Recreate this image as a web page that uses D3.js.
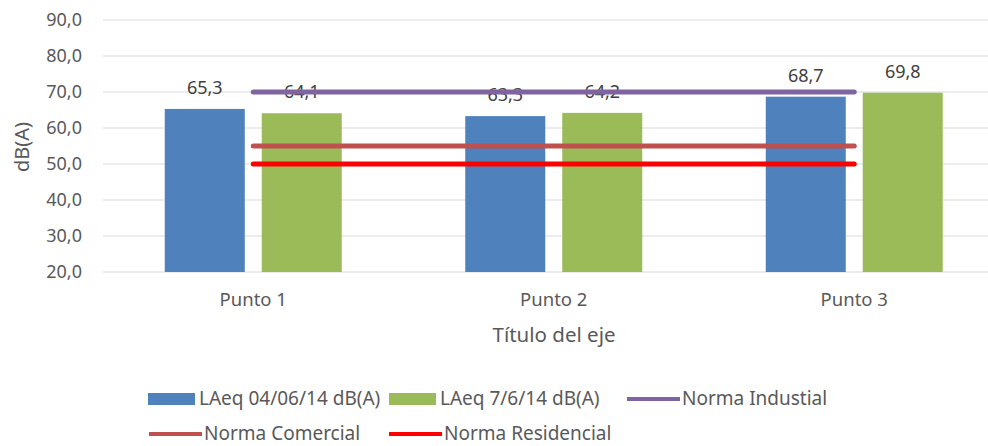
<!DOCTYPE html>
<html>
<head>
    <meta charset="utf-8">
    <title>Niveles de ruido</title>
    <script type="text/javascript" src="https://d3js.org/d3.v7.min.js"></script>
    <style>
        body { margin: 0; background: white; }
        .canvas { font-family: "Noto Sans", sans-serif; background-color: white; }
    </style>
</head>
<body>
    <svg class="canvas" width="988" height="446"></svg>
    <script type="text/javascript">
        // data
        var puntos = ["Punto 1", "Punto 2", "Punto 3"]
        var series = ["LAeq 04/06/14 dB(A)", "LAeq 7/6/14 dB(A)"]
        var medicion1 = [65.3, 63.3, 68.7]
        var medicion2 = [64.1, 64.2, 69.8]
        var normaIndustrial = [70, 70, 70]
        var normaComercial = [55, 55, 55]
        var normaResidencial = [50, 50, 50]
        var yTicks = [20, 30, 40, 50, 60, 70, 80, 90]

        var barColors = ["#4f81bd", "#9bbb59"]
        var normas = [
            { name: "Norma Industial", values: normaIndustrial, color: "#8064a2" },
            { name: "Norma Comercial", values: normaComercial, color: "#c0504d" },
            { name: "Norma Residencial", values: normaResidencial, color: "#ff0000" }
        ]

        var svg = d3.select('.canvas')
        var fmt = function(v) { return d3.format(".1f")(v).replace(".", ",") }

        var x0 = d3.scaleBand().domain(puntos).range([103, 1004.5])
            .paddingInner(0.411).paddingOuter(0.2055)
        var x1 = d3.scaleBand().domain(series).range([0, x0.bandwidth()]).paddingInner(0.175)
        var y = d3.scaleLinear().domain([20, 90]).range([272, 20])

        // gridlines
        svg.append('g').selectAll('line').data(yTicks).enter().append('line')
            .attr('x1', 103).attr('x2', 988)
            .attr('y1', d => y(d)).attr('y2', d => y(d))
            .attr('stroke', '#d9d9d9').attr('stroke-width', 1)

        // y tick labels
        svg.append('g').selectAll('text').data(yTicks).enter().append('text')
            .attr('x', 82).attr('y', d => y(d) + 6)
            .attr('text-anchor', 'end').attr('font-size', 18).attr('fill', '#595959')
            .text(d => fmt(d))

        svg.append('text')
            .attr('transform', 'translate(29,147) rotate(-90)')
            .attr('text-anchor', 'middle').attr('font-size', 20).attr('fill', '#595959')
            .text('dB(A)')

        // bars
        var rows = puntos.map((p, i) => ({ punto: p, vals: [medicion1[i], medicion2[i]] }))
        var groups = svg.append('g').selectAll('g').data(rows).enter().append('g')
            .attr('transform', d => 'translate(' + x0(d.punto) + ',0)')

        groups.selectAll('rect').data(d => d.vals.map((v, j) => ({ s: series[j], v: v, j: j })))
            .enter().append('rect')
            .attr('x', d => x1(d.s)).attr('width', x1.bandwidth())
            .attr('y', d => y(d.v)).attr('height', d => y(20) - y(d.v))
            .attr('fill', d => barColors[d.j])

        groups.selectAll('text').data(d => d.vals.map((v, j) => ({ s: series[j], v: v })))
            .enter().append('text')
            .attr('x', d => x1(d.s) + x1.bandwidth() / 2).attr('y', d => y(d.v) - 15)
            .attr('text-anchor', 'middle').attr('font-size', 18).attr('fill', '#404040')
            .text(d => fmt(d.v))

        // norm lines
        var line = d3.line()
            .x((d, i) => x0(puntos[i]) + x0.bandwidth() / 2)
            .y(d => y(d))
        svg.append('g').selectAll('path').data(normas).enter().append('path')
            .attr('d', d => line(d.values))
            .attr('fill', 'none').attr('stroke', d => d.color)
            .attr('stroke-width', 5).attr('stroke-linecap', 'round')

        // x labels
        svg.append('g').selectAll('text').data(puntos).enter().append('text')
            .attr('x', d => x0(d) + x0.bandwidth() / 2).attr('y', 306)
            .attr('text-anchor', 'middle').attr('font-size', 18.5).attr('fill', '#595959')
            .text(d => d)

        svg.append('text').attr('x', 554).attr('y', 342)
            .attr('text-anchor', 'middle').attr('font-size', 20.5).attr('fill', '#595959')
            .text('Título del eje')

        // legend
        var legend = [
            { name: series[0], color: barColors[0], type: 'bar', x: 148, y: 399 },
            { name: series[1], color: barColors[1], type: 'bar', x: 389, y: 399 },
            { name: normas[0].name, color: normas[0].color, type: 'line', x: 626, y: 399 },
            { name: normas[1].name, color: normas[1].color, type: 'line', x: 148, y: 434 },
            { name: normas[2].name, color: normas[2].color, type: 'line', x: 388, y: 434 }
        ]
        var lg = svg.append('g').selectAll('g').data(legend).enter().append('g')
            .attr('transform', d => 'translate(' + d.x + ',' + d.y + ')')
        lg.filter(d => d.type === 'bar').append('rect')
            .attr('x', 0).attr('y', -6).attr('width', 47).attr('height', 12)
            .attr('fill', d => d.color)
        lg.filter(d => d.type === 'line').append('line')
            .attr('x1', 1).attr('x2', 54).attr('y1', 0).attr('y2', 0)
            .attr('stroke', d => d.color).attr('stroke-width', 4)
        lg.append('text')
            .attr('x', d => d.type === 'bar' ? 51 : 56).attr('y', 6)
            .attr('font-size', 19).attr('fill', '#595959')
            .text(d => d.name)
    </script>
</body>
</html>
